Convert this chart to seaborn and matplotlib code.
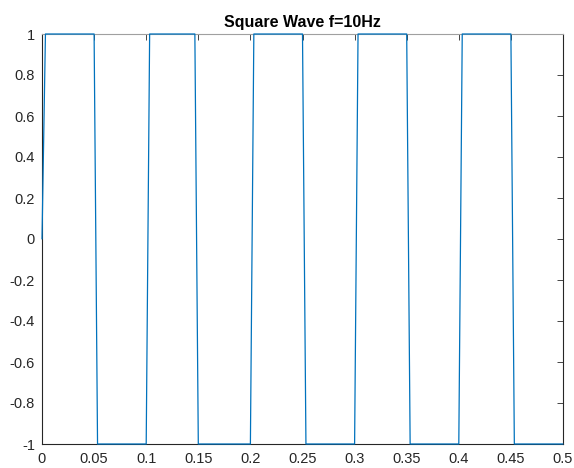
import matplotlib
matplotlib.use("Agg")
import matplotlib.pyplot as plt
import seaborn as sns
import pandas as pd

# Corner points of the sampled 10 Hz square wave (t in seconds)
t_points = [0.0, 0.0033, 0.05, 0.0533, 0.1, 0.1033, 0.1467, 0.15, 0.2, 0.2033,
            0.25, 0.2533, 0.3, 0.3033, 0.35, 0.3533, 0.4, 0.4033, 0.45, 0.4533, 0.5]
amplitude = [0, 1, 1, -1, -1, 1, 1, -1, -1, 1,
             1, -1, -1, 1, 1, -1, -1, 1, 1, -1, -1]

x_ticks = [0, 0.05, 0.1, 0.15, 0.2, 0.25, 0.3, 0.35, 0.4, 0.45, 0.5]
x_tick_labels = ["0", "0.05", "0.1", "0.15", "0.2", "0.25", "0.3", "0.35", "0.4", "0.45", "0.5"]
y_ticks = [-1, -0.8, -0.6, -0.4, -0.2, 0, 0.2, 0.4, 0.6, 0.8, 1]
y_tick_labels = ["-1", "-0.8", "-0.6", "-0.4", "-0.2", "0", "0.2", "0.4", "0.6", "0.8", "1"]

sns.set_style("white")
plt.rcParams["font.family"] = ["Liberation Sans", "DejaVu Sans"]

df = pd.DataFrame({"t": t_points, "y": amplitude})

fig = plt.figure(figsize=(5.74, 4.68), dpi=100)
ax = fig.add_axes([42 / 574, 24 / 468, 521 / 574, 410 / 468])

sns.lineplot(data=df, x="t", y="y", ax=ax, color="#0072BD", linewidth=0.9,
             estimator=None, sort=False, clip_on=False, zorder=5)

ax.set_xlim(0, 0.5)
ax.set_ylim(-1, 1)
ax.set_xticks(x_ticks)
ax.set_xticklabels(x_tick_labels)
ax.set_yticks(y_ticks)
ax.set_yticklabels(y_tick_labels)
ax.set_xlabel("")
ax.set_ylabel("")
ax.set_title("Square Wave f=10Hz", fontsize=11.5, fontweight="bold", pad=5, color="black")

ax.tick_params(axis="both", direction="in", length=4, width=0.6, color="#262626",
               labelsize=10.5, labelcolor="#262626", top=True, right=True)
ax.tick_params(axis="x", pad=6)
ax.tick_params(axis="y", pad=5)
for side, spine in ax.spines.items():
    spine.set_visible(True)
    spine.set_linewidth(0.8)
    spine.set_color("#262626")
ax.spines["top"].set_color("#a0a0a0")

fig.savefig("out.png", dpi=100, facecolor="white")
